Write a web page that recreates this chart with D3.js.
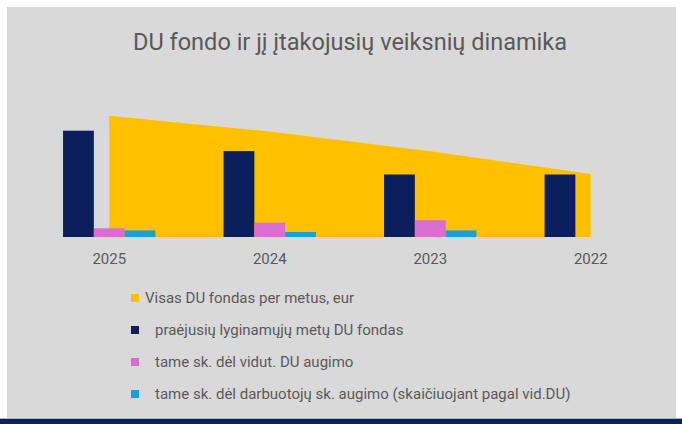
<!DOCTYPE html>
<html lang="lt">

<head>
  <meta charset="UTF-8">
  <title>DU fondo dinamika</title>
  <style>
    body { margin: 0; background: #fff; }
    svg { display: block; }
  </style>
</head>

<body>
  <script src="https://cdn.jsdelivr.net/npm/d3@7/dist/d3.min.js"></script>
  <script>
    var width = 682;
    var height = 424;

    // duomenys (tūkst. eur, nuskaityta iš paveikslo)
    var years = ["2025", "2024", "2023", "2022"];
    var totalFund = [1213, 1055, 858, 630];        // Visas DU fondas per metus
    var prevFund = [1063, 860, 625, 625];          // praėjusių lyginamųjų metų DU fondas
    var avgGrowth = [87, 143, 168, 0];             // dėl vidut. DU augimo
    var staffGrowth = [66, 50, 66, 0];             // dėl darbuotojų sk. augimo

    var barSeries = [
      { name: "praėjusių lyginamųjų metų DU fondas", values: prevFund, color: "#0b1f5c" },
      { name: "tame sk. dėl vidut. DU augimo", values: avgGrowth, color: "#d86fd0" },
      { name: "tame sk. dėl darbuotojų sk. augimo (skaičiuojant pagal vid.DU)", values: staffGrowth, color: "#1b9fd6" }
    ];
    var areaName = "Visas DU fondas per metus, eur";
    var areaColor = "#ffc000";

    var svg = d3.select("body")
      .append("svg")
      .attr("width", width)
      .attr("height", height);

    // fonas
    svg.append("rect")
      .attr("x", 7).attr("y", 7)
      .attr("width", 669).attr("height", 412)
      .attr("fill", "#d9d9d9");
    svg.append("rect")
      .attr("x", 0).attr("y", 418)
      .attr("width", width).attr("height", 1)
      .attr("fill", "#9fb4d4");
    svg.append("rect")
      .attr("x", 0).attr("y", 419)
      .attr("width", width).attr("height", 5)
      .attr("fill", "#0e2352");

    // pavadinimas
    svg.append("text")
      .attr("x", 350).attr("y", 50)
      .attr("text-anchor", "middle")
      .attr("font-family", "Roboto, sans-serif")
      .attr("font-size", 24)
      .attr("fill", "#595959")
      .attr("textLength", 434)
      .attr("lengthAdjust", "spacingAndGlyphs")
      .text("DU fondo ir jį įtakojusių veiksnių dinamika");

    var x = d3.scaleBand()
      .domain(years)
      .range([29, 671]);

    var x1 = d3.scaleBand()
      .domain(d3.range(barSeries.length))
      .range([-46.2, 46.2]);

    var y = d3.scaleLinear()
      .domain([0, 1400])
      .range([237, 97]);

    // plotas
    var area = d3.area()
      .x(function (d, i) { return x(years[i]) + x.bandwidth() / 2; })
      .y0(y(0))
      .y1(function (d) { return y(d); });

    svg.append("path")
      .datum(totalFund)
      .attr("d", area)
      .attr("fill", areaColor);

    // stulpeliai
    barSeries.forEach(function (s, si) {
      svg.append("g")
        .selectAll("rect")
        .data(s.values)
        .enter()
        .append("rect")
        .attr("x", function (d, i) { return x(years[i]) + x.bandwidth() / 2 + x1(si); })
        .attr("y", function (d) { return y(d); })
        .attr("width", x1.bandwidth())
        .attr("height", function (d) { return y(0) - y(d); })
        .attr("fill", s.color);
    });

    // x ašis
    var xAxis = svg.append("g")
      .attr("transform", "translate(0," + 253 + ")")
      .call(d3.axisBottom(x).tickSize(0).tickPadding(0));
    xAxis.select(".domain").remove();
    xAxis.selectAll("text")
      .attr("font-family", "Roboto, sans-serif")
      .attr("font-size", 15)
      .attr("fill", "#595959");

    // legenda
    var legendItems = [{ name: areaName, color: areaColor, tx: 145 }].concat(
      barSeries.map(function (s) { return { name: s.name, color: s.color, tx: 155 }; })
    );

    var legend = svg.append("g")
      .selectAll("g")
      .data(legendItems)
      .enter()
      .append("g")
      .attr("transform", function (d, i) { return "translate(0," + (298 + i * 32) + ")"; });

    legend.append("rect")
      .attr("x", 131).attr("y", -4)
      .attr("width", 8).attr("height", 8)
      .attr("fill", function (d) { return d.color; });

    legend.append("text")
      .attr("x", function (d) { return d.tx; })
      .attr("dy", "0.35em")
      .attr("font-family", "Roboto, sans-serif")
      .attr("font-size", 15)
      .attr("fill", "#595959")
      .text(function (d) { return d.name; });
  </script>
</body>

</html>
